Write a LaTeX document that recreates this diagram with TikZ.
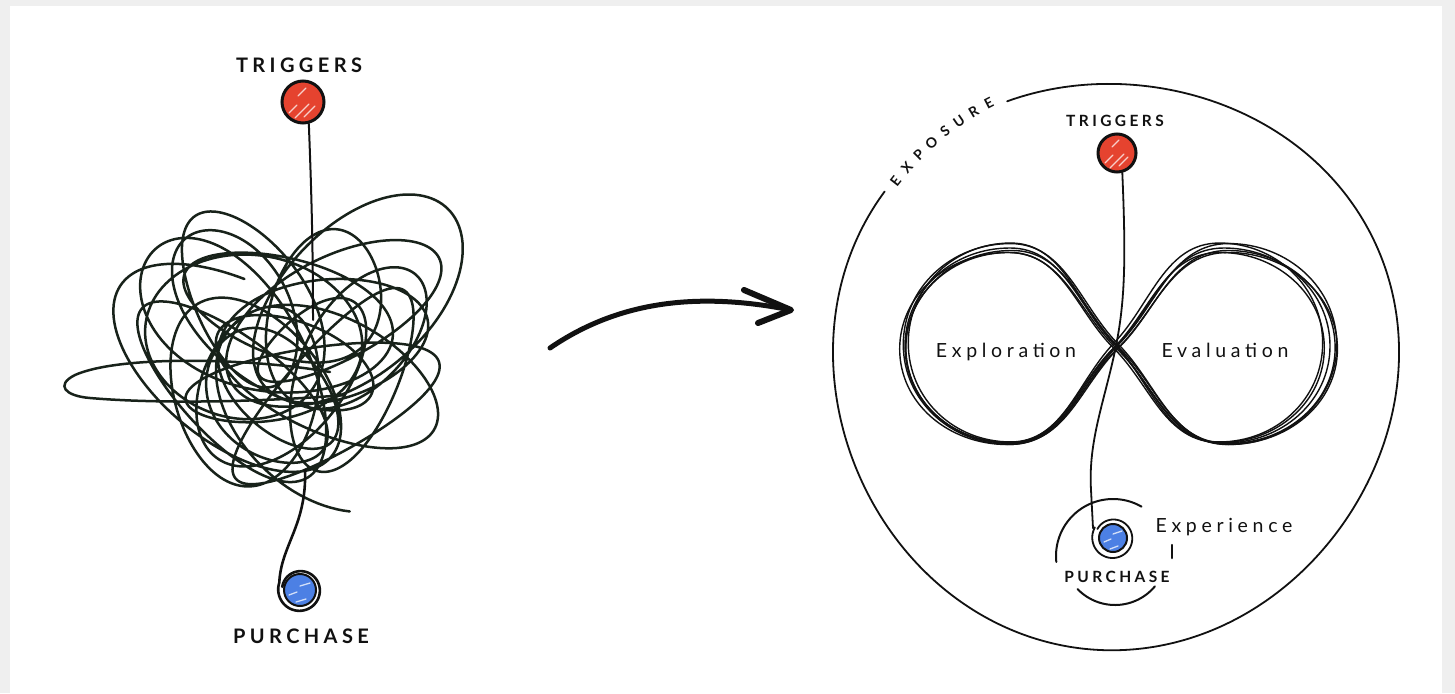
\documentclass[tikz,border=0pt]{standalone}
\usepackage{fontspec}
\newfontfamily\capsfont[LetterSpace=22]{Lato}
\newfontfamily\wordfont[LetterSpace=24]{Lato}
\usetikzlibrary{calc}
\definecolor{bggray}{HTML}{EFEFEF}
\definecolor{inkc}{HTML}{111111}
\definecolor{tanglec}{HTML}{18221A}
\definecolor{redc}{HTML}{E5432F}
\definecolor{bluec}{HTML}{4C80E4}
\begin{document}
\begin{tikzpicture}[x=1pt,y=-1pt,
  stroke/.style={draw=inkc, line cap=round, line join=round},
  tanglestroke/.style={draw=tanglec, line width=2.5pt, line cap=round, line join=round},
  infstroke/.style={draw=inkc, line width=1.4pt, line cap=round, line join=round},
  dotred/.style={circle, fill=redc, draw=inkc, line width=3pt, inner sep=0pt, minimum size=#1},
  dotblue/.style={circle, fill=bluec, draw=inkc, line width=2pt, inner sep=0pt, minimum size=#1},
  biglabel/.style={font=\capsfont\bfseries\fontsize{20}{20}\selectfont, text=inkc, inner sep=0pt, anchor=base},
  smalllabel/.style={font=\capsfont\bfseries\fontsize{15.5}{16}\selectfont, text=inkc, inner sep=0pt, anchor=base},
  explabel/.style={font=\capsfont\bfseries\fontsize{14}{14}\selectfont, text=inkc, inner sep=0pt},
  wordlabel/.style={font=\wordfont\fontsize{19.5}{20}\selectfont, text=inkc, inner sep=0pt, anchor=base},
  shine/.style={draw=white, opacity=0.75, line width=1.3pt, line cap=round},
]
% background
\fill[bggray] (0,0) rectangle (1455,693);
\fill[white] (10,6) rectangle (1442,693);
\useasboundingbox (0,0) rectangle (1455,693);

% ---------------- left: tangled journey ----------------
\node[biglabel] (trigLtext) at (299,73) {TRIGGERS};
\node[dotred=42] (trigL) at (303,102) {};
\draw[shine] (289,113) -- (297,105);
\draw[shine] (295,118) -- (309,104);
\draw[shine] (304,117) -- (315,106);
\draw[shine] (298,96) -- (306,88);

\draw[tanglestroke] plot[domain=90:7110, samples=2400, variable=\t]
  ({294 + 60*cos(0.13*\t+10) + (88 + 26*sin(0.21*\t+30) + 16*sin(0.53*\t))*cos(\t)},
   {350 + 50*sin(0.17*\t+60) + (80 + 22*cos(0.27*\t) + 14*sin(0.47*\t+40))*sin(\t + 40*sin(0.11*\t))});
\draw[tanglestroke] (330,372) .. controls (250,358) and (120,355) .. (75,375)
  .. controls (55,385) and (65,396) .. (90,398) .. controls (160,404) and (260,402) .. (345,395);

\draw[stroke, line width=2pt] (trigL.-75) .. controls (311,180) and (313,240) .. (313,320);

\node[dotblue=32] (purL) at (300,590) {};
\draw[shine] (289,595) -- (297,592);
\draw[shine] (300,586) -- (310,583);
\draw[shine] (296,602) -- (306,599);
\draw[stroke, line width=2.6pt] (305,470) .. controls (307,525) and (281,545) .. (279.3,582.5)
  -- plot[domain=200:-170, samples=80, variable=\a]
  ({300 + (22 - 4*(200-\a)/370)*cos(\a)}, {590 + (22 - 4*(200-\a)/370)*sin(\a)});
\node[biglabel] (purLtext) at (301,643) {PURCHASE};

% ---------------- arrow ----------------
\coordinate (arrS) at (550,348);
\coordinate (arrT) at (791,310);
\draw[stroke, line width=5pt] (arrS) .. controls (620,300) and (700,292) .. (arrT);
\draw[stroke, line width=6pt] (744,290) -- (arrT) -- (758,323);

% ---------------- right: exposure circle ----------------
\draw[stroke, line width=1.8pt] plot[domain=145:474, samples=220, smooth, variable=\a]
  ({1121 + (283 + 9*cos(\a-225) + 4*sin(3*\a+20))*cos(\a)},
   {357 - (283 + 9*cos(\a-225) + 4*sin(3*\a+20))*sin(\a)});
\foreach \l [count=\i from 0] in {E,X,P,O,S,U,R,E}{
  \node[explabel, rotate={52-\i*3.5}] (exp\i) at
    ({1121 + 286*cos(142-\i*3.5)}, {357 - 286*sin(142-\i*3.5)}) {\l};
}

\node[smalllabel] (trigRtext) at (1115,126) {TRIGGERS};
\node[dotred=38] (trigR) at (1117,153) {};
\draw[shine] (1105,163) -- (1113,155);
\draw[shine] (1110,168) -- (1124,154);
\draw[shine] (1119,166) -- (1128,157);
\draw[shine] (1112,147) -- (1119,140);

% infinity loops
\foreach \dx/\dy/\sx/\sy [count=\k] in {0/0/1/1, 2.5/-1.5/1.02/1.03, -2.5/2/0.985/0.975, 1/3/1.03/0.985, -2/-3/0.975/1.02, 3/1.5/1.01/0.99}{
  \begin{scope}[shift={(1116+\dx,346+\dy)}, xscale=\sx, yscale=\sy]
  \draw[infstroke] (0,0) .. controls (38,-38) and (52,-98) .. (108,-98)
     .. controls (166,-98) and (214,-55) .. (214,0)
     .. controls (214,55) and (166,97) .. (108,97)
     .. controls (52,97) and (38,38) .. (0,0)
     .. controls (-38,-38) and (-52,-98) .. (-106,-98)
     .. controls (-164,-98) and (-211,-55) .. (-211,0)
     .. controls (-211,55) and (-164,97) .. (-106,97)
     .. controls (-52,97) and (-38,38) .. (0,0);
  \end{scope}
}
\node[wordlabel] (explo) at (1006,357) {Exploration};
\node[wordlabel] (evalu) at (1225,357) {Evaluation};

% purchase / experience
\node[dotblue=28] (purR) at (1113,538) {};
\draw[shine] (1104,542) -- (1111,539);
\draw[shine] (1113,534) -- (1122,531);
\draw[shine] (1110,549) -- (1118,546);
\draw[stroke, line width=1.8pt] (trigR.-75) .. controls (1126,260) and (1125,300) .. (1116,346)
   .. controls (1105,400) and (1088,440) .. (1091,490) -- (1093,528)
   -- plot[domain=210:-150, samples=80, variable=\a]
  ({1113 + (21 - 3*(210-\a)/360)*cos(\a)}, {538 + (21 - 3*(210-\a)/360)*sin(\a)});
\draw[stroke, line width=2pt] plot[domain=186:60, samples=60, variable=\a]
  ({1113 + 57*cos(\a)}, {556 - 57*sin(\a)});
\draw[stroke, line width=2pt] plot[domain=224:320, samples=40, variable=\a]
  ({1115 + 52*cos(\a)}, {553 - 52*sin(\a)});
\coordinate (tickA) at (1172,545);
\coordinate (tickB) at (1172,558);
\draw[stroke, line width=2.5pt] (tickA) -- (tickB);
\node[smalllabel] (purRtext) at (1117,582) {PURCHASE};
\node[wordlabel] (exper) at (1224,532) {Experience};
\end{tikzpicture}
\end{document}
